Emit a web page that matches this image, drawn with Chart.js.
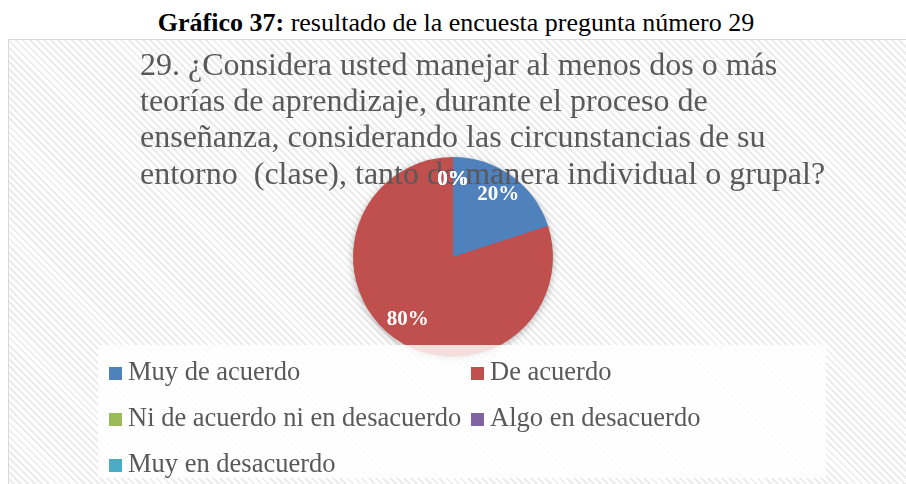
<!DOCTYPE html>
<html>
<head>
<meta charset="utf-8">
<script src="https://cdn.jsdelivr.net/npm/chart.js@4.4.1/dist/chart.umd.min.js"></script>
<style>
  html, body { margin: 0; padding: 0; background: #fff; width: 906px; height: 484px; overflow: hidden;
    font-family: "Liberation Serif", "Times New Roman", serif; }
  #caption { position: absolute; left: 0; top: 8px; width: 912px; text-align: center;
    font-size: 26px; line-height: 30px; color: #000; }
  #frame { position: absolute; left: 8px; top: 39px; width: 930px; height: 480px; border: 1px solid #d9d9d9;
    background: repeating-linear-gradient(45deg, #ffffff 0 3px, #ececec 3px 5px); }
  #wrap { position: absolute; left: 0; top: 0; width: 906px; height: 484px; }
  #legend { position: absolute; left: 98px; top: 345px; width: 728px; height: 133px;
    background: rgba(255, 255, 255, 0.82); }
  .item { position: absolute; font-size: 26.5px; color: #595959; white-space: nowrap; line-height: 30px; }
  .item span.box { display: inline-block; width: 13px; height: 13px; margin-right: 6px; vertical-align: 0px; }
</style>
</head>
<body>
<div id="caption"><b>Gráfico 37:</b> resultado de la encuesta pregunta número 29</div>
<div id="frame"></div>
<div id="wrap"><canvas id="chart"></canvas></div>
<div id="legend"></div>

<script>
// --- data ---
const categories = ["Muy de acuerdo", "De acuerdo", "Ni de acuerdo ni en desacuerdo", "Algo en desacuerdo", "Muy en desacuerdo"];
const values = [20, 80, 0, 0, 0];
const colors = ["#4f81bd", "#c0504d", "#9bbb59", "#8064a2", "#4bacc6"];
const titleLines = [
  "29. ¿Considera usted manejar al menos dos o más",
  "teorías de aprendizaje, durante el proceso de",
  "enseñanza, considerando las circunstancias de su",
  "entorno  (clase), tanto de manera individual o grupal?",
];

const SERIF = '"Liberation Serif", "Times New Roman", serif';

// soft shadow under the whole pie
const pieShadow = {
  id: "pieShadow",
  beforeDatasetsDraw(chart) {
    const arc = chart.getDatasetMeta(0).data[0];
    if (!arc) return;
    const { x, y, outerRadius } = arc.getProps(["x", "y", "outerRadius"], true);
    const ctx = chart.ctx;
    ctx.save();
    ctx.shadowColor = "rgba(0,0,0,0.35)";
    ctx.shadowBlur = 8;
    ctx.shadowOffsetY = 2;
    ctx.fillStyle = "#c0504d";
    ctx.beginPath();
    ctx.arc(x, y, outerRadius - 1, 0, Math.PI * 2);
    ctx.fill();
    ctx.restore();
  },
};

// chart title (drawn over the pie) and white percentage labels on top
const overlayText = {
  id: "overlayText",
  afterDatasetsDraw(chart) {
    const ctx = chart.ctx;
    ctx.save();
    ctx.fillStyle = "#595959";
    ctx.font = "32px " + SERIF;
    ctx.textAlign = "left";
    ctx.textBaseline = "alphabetic";
    titleLines.forEach((line, i) => ctx.fillText(line, 140, 75 + i * 36.2));

    const meta = chart.getDatasetMeta(0);
    const data = chart.data.datasets[0].data;
    const total = data.reduce((a, b) => a + b, 0);
    ctx.fillStyle = "#ffffff";
    ctx.font = "bold 21px " + SERIF;
    ctx.textAlign = "center";
    ctx.textBaseline = "middle";
    meta.data.forEach((arc, i) => {
      const p = arc.getProps(["x", "y", "startAngle", "endAngle", "outerRadius"], true);
      const mid = (p.startAngle + p.endAngle) / 2;
      const r = p.outerRadius * 0.77;
      const pct = total ? Math.round((data[i] / total) * 100) : 0;
      ctx.fillText(pct + "%", p.x + Math.cos(mid) * r, p.y + Math.sin(mid) * r);
    });
    ctx.restore();
  },
};

new Chart(document.getElementById("chart"), {
  type: "pie",
  data: {
    labels: categories,
    datasets: [{
      data: values,
      backgroundColor: colors,
      borderWidth: 0,
    }],
  },
  options: {
    responsive: true,
    maintainAspectRatio: false,
    animation: false,
    layout: { padding: { left: 353, right: 353, top: 157, bottom: 127 } },
    plugins: {
      legend: { display: false },
      tooltip: { enabled: false },
    },
  },
  plugins: [pieShadow, overlayText],
});

// legend: two columns, three rows
const legend = document.getElementById("legend");
const colX = [11, 373];
categories.forEach((name, i) => {
  const el = document.createElement("div");
  el.className = "item";
  el.style.left = colX[i % 2] + "px";
  el.style.top = (11 + Math.floor(i / 2) * 46) + "px";
  el.innerHTML = '<span class="box" style="background:' + colors[i] + '"></span>' + name;
  legend.appendChild(el);
});
</script>
</body>
</html>
